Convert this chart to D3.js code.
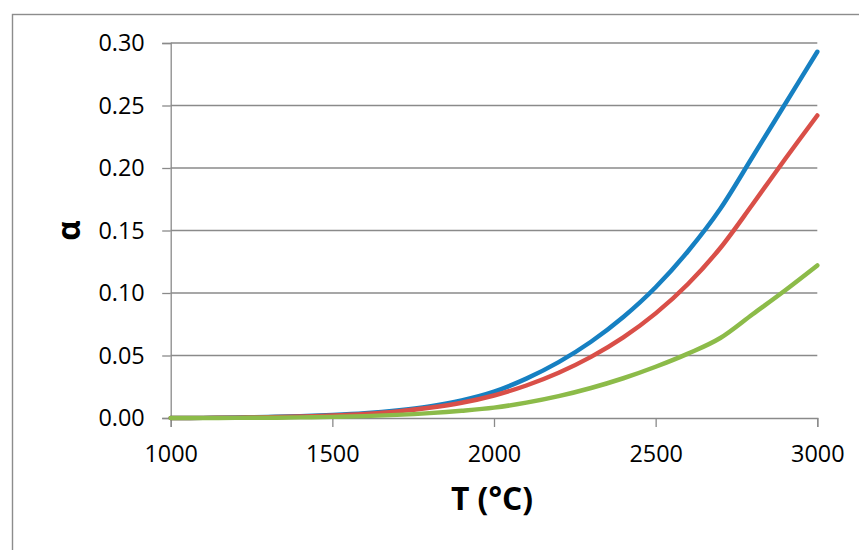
<!DOCTYPE html>
<html>
<head>
<meta charset="utf-8">
<script src="https://cdn.jsdelivr.net/npm/d3@7"></script>
<style>
  html, body { margin: 0; padding: 0; background: #fff; }
  svg { display: block; }
</style>
</head>
<body>
<svg id="chart" width="859" height="550"></svg>
<script>
// Temperature (°C) sample points
const temps = [1000, 1100, 1200, 1300, 1400, 1500, 1600, 1700, 1800, 1900, 2000,
               2100, 2200, 2300, 2400, 2500, 2600, 2700, 2800, 2900, 3000];

// Degree of dissociation α for three cases
const seriesBlue  = [0, 0.0001, 0.0004, 0.0008, 0.0014, 0.0024, 0.0038, 0.006, 0.0092, 0.014, 0.021,
                     0.0315, 0.0447, 0.061, 0.0808, 0.1046, 0.1334, 0.1674, 0.209, 0.251, 0.293];
const seriesRed   = [0, 0.0001, 0.0003, 0.0006, 0.0012, 0.002, 0.0033, 0.0053, 0.0082, 0.0122, 0.018,
                     0.026, 0.0362, 0.0489, 0.0645, 0.0837, 0.1072, 0.136, 0.171, 0.207, 0.242];
const seriesGreen = [0, 0, 0.0001, 0.0002, 0.0005, 0.0009, 0.0015, 0.0025, 0.0039, 0.0058, 0.0083,
                     0.0123, 0.0175, 0.024, 0.0318, 0.041, 0.0515, 0.064, 0.083, 0.102, 0.122];

const xTicks = [1000, 1500, 2000, 2500, 3000];
const yTicks = [0, 0.05, 0.10, 0.15, 0.20, 0.25, 0.30];

const seriesList = [
  { values: seriesBlue,  color: "#1680C2" },
  { values: seriesRed,   color: "#D94F48" },
  { values: seriesGreen, color: "#8CBB49" }
];

const svg = d3.select("#chart");
const FONT = "'Open Sans', 'Noto Sans', sans-serif";
const GRID = "#8a8a8a";

// chart frame
svg.append("rect")
  .attr("x", 12.5).attr("y", 14.5)
  .attr("width", 900).attr("height", 600)
  .attr("fill", "none")
  .attr("stroke", "#8c8c8c")
  .attr("stroke-width", 1.4);

const x = d3.scaleLinear().domain([1000, 3000]).range([170.7, 817.3]);
const y = d3.scaleLinear().domain([0, 0.3]).range([418, 43]);

// horizontal gridlines
svg.append("g")
  .selectAll("line")
  .data(yTicks.filter(d => d > 0))
  .join("line")
  .attr("x1", x(1000)).attr("x2", x(3000))
  .attr("y1", d => y(d)).attr("y2", d => y(d))
  .attr("stroke", GRID)
  .attr("stroke-width", 1.3);

// y axis
const yAxis = svg.append("g")
  .attr("transform", `translate(${x(1000)},0)`)
  .call(d3.axisLeft(y).tickValues(yTicks).tickFormat(d3.format(".2f"))
    .tickSize(8.5).tickPadding(17.5));
yAxis.select(".domain").attr("stroke", GRID).attr("stroke-width", 1.3);
yAxis.selectAll(".tick line").attr("stroke", GRID).attr("stroke-width", 1.3);
yAxis.selectAll(".tick text")
  .attr("font-family", FONT).attr("font-size", 23.4).attr("fill", "#000");

// x axis
const xAxis = svg.append("g")
  .attr("transform", `translate(0,${y(0)})`)
  .call(d3.axisBottom(x).tickValues(xTicks).tickFormat(d3.format("d"))
    .tickSize(9).tickPadding(18));
xAxis.select(".domain").attr("stroke", GRID).attr("stroke-width", 1.3);
xAxis.selectAll(".tick line").attr("stroke", GRID).attr("stroke-width", 1.3);
xAxis.selectAll(".tick text")
  .attr("font-family", FONT).attr("font-size", 23.4).attr("fill", "#000");

// series lines
const line = d3.line()
  .x((d, i) => x(temps[i]))
  .y(d => y(d))
  .curve(d3.curveCardinal.tension(0));

svg.append("g")
  .selectAll("path")
  .data(seriesList)
  .join("path")
  .attr("d", s => line(s.values))
  .attr("fill", "none")
  .attr("stroke", s => s.color)
  .attr("stroke-width", 4.5)
  .attr("stroke-linecap", "round")
  .attr("stroke-linejoin", "round");

// axis titles
svg.append("text")
  .attr("x", 492).attr("y", 509.5)
  .attr("text-anchor", "middle")
  .attr("font-family", FONT).attr("font-weight", "bold")
  .attr("font-size", 31.8).attr("fill", "#000")
  .text("T (°C)");

svg.append("text")
  .attr("transform", "translate(80,230.5) rotate(-90)")
  .attr("text-anchor", "middle")
  .attr("font-family", FONT).attr("font-weight", "bold")
  .attr("font-size", 31.8).attr("fill", "#000")
  .text("α");
</script>
</body>
</html>
